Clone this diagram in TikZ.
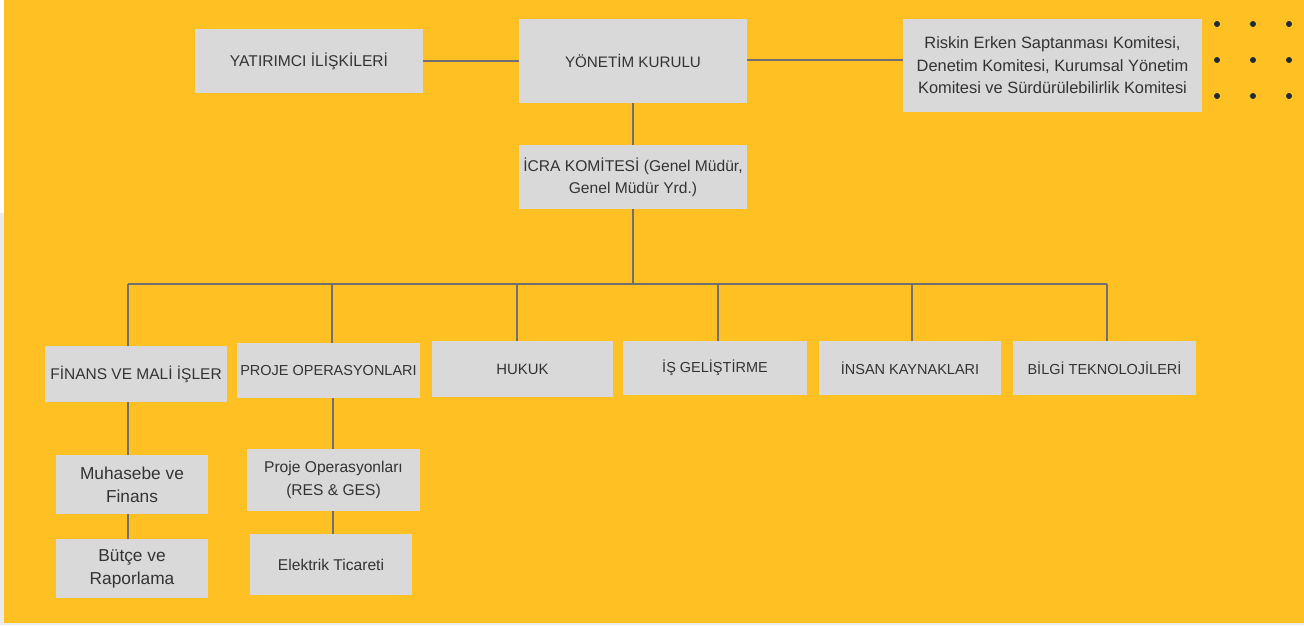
\documentclass[tikz,border=0pt]{standalone}
\usepackage{fontspec}
\setmainfont{Liberation Sans}
\definecolor{bgyellow}{HTML}{FEC022}
\definecolor{boxgray}{HTML}{D9D9D9}
\definecolor{txt}{HTML}{333333}
\definecolor{linegray}{HTML}{707070}
\definecolor{dotc}{HTML}{1F2A36}
\definecolor{edgegray}{HTML}{EBEBEB}
\newcommand{\fs}[2]{\fontsize{#1pt}{#2pt}\selectfont}
\begin{document}
\begin{tikzpicture}[x=1pt,y=-1pt,
  box/.style={rectangle, fill=boxgray, text=txt, inner sep=0pt, align=center,
    font=\fs{14.5}{21}},
  conn/.style={draw=linegray, line width=2.4pt},
  dot/.style={circle, fill=dotc, inner sep=0pt, minimum size=6pt}]
\useasboundingbox (0,0) rectangle (1304,625);
\fill[white] (0,0) rectangle (1304,625);
\fill[edgegray] (0,213) rectangle (4,625);
\fill[edgegray] (0,623) rectangle (1304,625);
\fill[bgyellow] (4,0) rectangle (1304,623);

% top level
\node[box, font=\fs{15.6}{21}, minimum width=228pt, minimum height=64pt] (yat) at (309,61) {YATIRIMCI İLİŞKİLERİ};
\node[box, font=\fs{15.2}{21}, minimum width=228pt, minimum height=84pt] (yk) at (633,61) {YÖNETİM KURULU};
\node[box, minimum width=299pt, minimum height=93pt, font=\fs{16.4}{22.5}] (risk) at (1052.5,65.5)
  {Riskin Erken Saptanması Komitesi,\\Denetim Komitesi, Kurumsal Yönetim\\Komitesi ve Sürdürülebilirlik Komitesi};
\node[box, font=\fs{15.6}{22}, minimum width=228pt, minimum height=64pt] (icra) at (633,177) {İCRA KOMİTESİ (Genel Müdür,\\Genel Müdür Yrd.)};

% dots
\foreach \i/\xx in {1/1217,2/1253,3/1289}{
  \foreach \j/\yy in {1/24,2/60,3/96}{
    \node[dot] (d\i\j) at (\xx,\yy) {};
  }
}

% second level
\node[box, font=\fs{15.5}{21}, minimum width=182pt, minimum height=56pt] (fin) at (136,374) {FİNANS VE MALİ İŞLER};
\node[box, minimum width=183pt, minimum height=55pt] (proje) at (328.5,370.5) {PROJE OPERASYONLARI};
\node[box, font=\fs{14.9}{21}, minimum width=181pt, minimum height=56pt] (hukuk) at (522.5,369) {HUKUK};
\node[box, minimum width=184pt, minimum height=54pt] (is) at (715,368) {İŞ GELİŞTİRME};
\node[box, minimum width=182pt, minimum height=54pt] (insan) at (910,368) {İNSAN KAYNAKLARI};
\node[box, minimum width=183pt, minimum height=54pt] (bilgi) at (1104.5,368) {BİLGİ TEKNOLOJİLERİ};

% third level
\node[box, font=\fs{17.3}{23}, minimum width=152pt, minimum height=59pt] (muh) at (132,484.5) {Muhasebe ve\\Finans};
\node[box, font=\fs{17.3}{23}, minimum width=152pt, minimum height=59pt] (butce) at (132,568.5) {Bütçe ve\\Raporlama};
\node[box, minimum width=173pt, minimum height=62pt, font=\fs{15.6}{23}] (res) at (333.5,480) {Proje Operasyonları\\(RES \& GES)};
\node[box, minimum width=162pt, minimum height=61pt, font=\fs{15.6}{22}] (elek) at (331,564.5) {Elektrik Ticareti};

% bus coordinates
\coordinate (bc) at (633,284);
\coordinate (b1) at (128,284);
\coordinate (b2) at (332,284);
\coordinate (b3) at (517,284);
\coordinate (b4) at (718,284);
\coordinate (b5) at (912,284);
\coordinate (b6) at (1107,284);
\coordinate (px) at (333,0);

% connectors
\draw[conn] (yat.east) -- (yk.west);
\draw[conn] (yk.east |- 0,60) -- (risk.west |- 0,60);
\draw[conn] (yk.south) -- (icra.north);
\draw[conn] (icra.south) -- (bc);
\draw[conn] (b1) -- (b6);
\draw[conn] (b1) -- (b1 |- fin.north);
\draw[conn] (b2) -- (b2 |- proje.north);
\draw[conn] (b3) -- (b3 |- hukuk.north);
\draw[conn] (b4) -- (b4 |- is.north);
\draw[conn] (b5) -- (b5 |- insan.north);
\draw[conn] (b6) -- (b6 |- bilgi.north);
\draw[conn] (b1 |- fin.south) -- (b1 |- muh.north);
\draw[conn] (b1 |- muh.south) -- (b1 |- butce.north);
\draw[conn] (px |- proje.south) -- (px |- res.north);
\draw[conn] (px |- res.south) -- (px |- elek.north);
\end{tikzpicture}
\end{document}
